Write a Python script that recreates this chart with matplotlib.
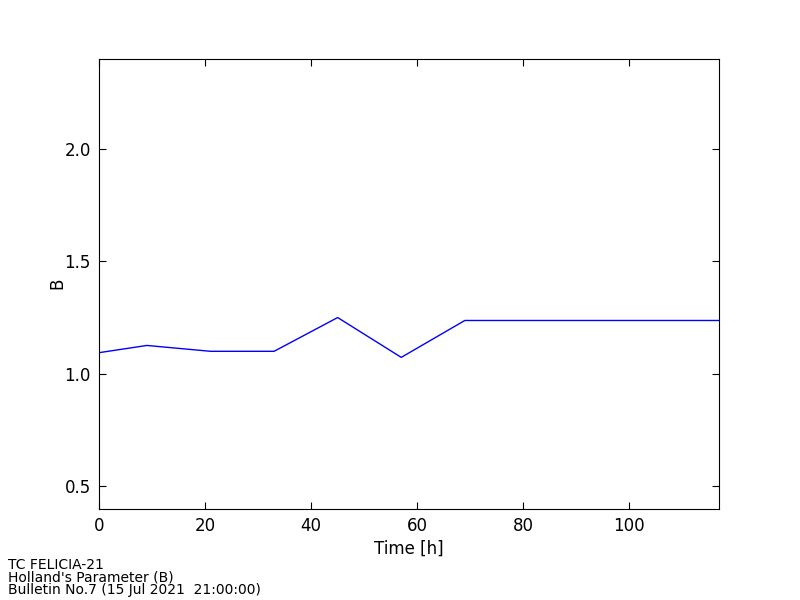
import matplotlib
matplotlib.use('Agg')
import matplotlib.pyplot as plt

# forecast time (h) and Holland B parameter
hours = [0, 9, 21, 33, 45, 57, 69, 81, 93, 105, 117]
holland_b = [1.094, 1.126, 1.10, 1.10, 1.25, 1.073, 1.237, 1.237, 1.237, 1.237, 1.237]

x_ticks = [0, 20, 40, 60, 80, 100]
y_ticks = [0.5, 1.0, 1.5, 2.0]

info_lines = ["TC FELICIA-21", "Holland's Parameter (B)", "Bulletin No.7 (15 Jul 2021  21:00:00)"]

fig = plt.figure(figsize=(8, 6), dpi=100)
ax = fig.add_axes([0.124, 0.152, 0.775, 0.75])

ax.plot(hours, holland_b, color='blue', linewidth=1.0)
ax.set_xlim(0, 117)
ax.set_ylim(0.4, 2.4)
ax.set_xticks(x_ticks)
ax.set_yticks(y_ticks)
ax.tick_params(direction='in', top=True, right=True, length=5, labelsize=12, pad=6)
ax.set_xlabel('Time [h]', fontsize=12, labelpad=3)
ax.set_ylabel('B', fontsize=12, labelpad=-1)

fig.text(0.01, 0.005, "\n".join(info_lines), fontsize=10, ha='left', va='bottom', linespacing=0.85)

fig.savefig('out.png', dpi=100)
